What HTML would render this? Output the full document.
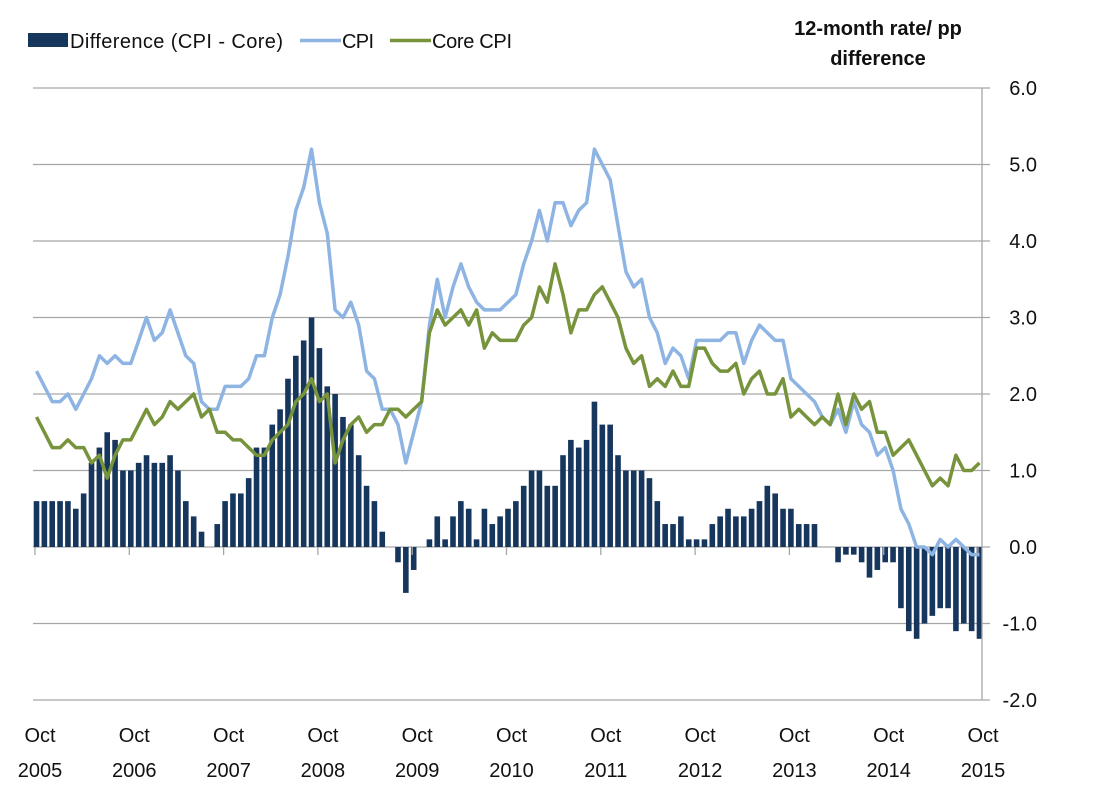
<!DOCTYPE html>
<html><head><meta charset="utf-8"><style>
body{margin:0;background:#fff}
svg{display:block;font-family:"Liberation Sans",Arial,sans-serif}
</style></head><body>
<svg id="chart" width="1113" height="794">
<g>
<rect x="28" y="33" width="40" height="14" fill="#17365d"/>
<text x="70" y="48" font-size="20" fill="#111" textLength="213">Difference (CPI - Core)</text>
<line x1="300" y1="40.5" x2="341" y2="40.5" stroke="#8eb4e3" stroke-width="3.5"/>
<text x="342" y="48" font-size="20" fill="#111" textLength="32">CPI</text>
<line x1="390" y1="40.5" x2="431" y2="40.5" stroke="#77933c" stroke-width="3.5"/>
<text x="432" y="48" font-size="20" fill="#111" textLength="80">Core CPI</text>
</g>
<text x="878" y="35" font-size="20" font-weight="bold" text-anchor="middle" fill="#111">12-month rate/ pp</text>
<text x="878" y="65" font-size="20" font-weight="bold" text-anchor="middle" fill="#111">difference</text>
<g id="grid"></g><g id="bars"></g><g id="lines"></g><g id="axes"></g>
</svg>
<script>
const yTicks=[6,5,4,3,2,1,0,-1,-2];
const yTickLabels=["6.0","5.0","4.0","3.0","2.0","1.0","0.0","-1.0","-2.0"];
const xTickYears=["2005","2006","2007","2008","2009","2010","2011","2012","2013","2014","2015"];
const cpi=[2.3,2.1,1.9,1.9,2.0,1.8,2.0,2.2,2.5,2.4,2.5,2.4,2.4,2.7,3.0,2.7,2.8,3.1,2.8,2.5,2.4,1.9,1.8,1.8,2.1,2.1,2.1,2.2,2.5,2.5,3.0,3.3,3.8,4.4,4.7,5.2,4.5,4.1,3.1,3.0,3.2,2.9,2.3,2.2,1.8,1.8,1.6,1.1,1.5,1.9,2.9,3.5,3.0,3.4,3.7,3.4,3.2,3.1,3.1,3.1,3.2,3.3,3.7,4.0,4.4,4.0,4.5,4.5,4.2,4.4,4.5,5.2,5.0,4.8,4.2,3.6,3.4,3.5,3.0,2.8,2.4,2.6,2.5,2.2,2.7,2.7,2.7,2.7,2.8,2.8,2.4,2.7,2.9,2.8,2.7,2.7,2.2,2.1,2.0,1.9,1.7,1.6,1.8,1.5,1.9,1.6,1.5,1.2,1.3,1.0,0.5,0.3,0.0,0.0,-0.1,0.1,0.0,0.1,0.0,-0.1,-0.1];
const core=[1.7,1.5,1.3,1.3,1.4,1.3,1.3,1.1,1.2,0.9,1.2,1.4,1.4,1.6,1.8,1.6,1.7,1.9,1.8,1.9,2.0,1.7,1.8,1.5,1.5,1.4,1.4,1.3,1.2,1.2,1.4,1.5,1.6,1.9,2.0,2.2,1.9,2.0,1.1,1.4,1.6,1.7,1.5,1.6,1.6,1.8,1.8,1.7,1.8,1.9,2.8,3.1,2.9,3.0,3.1,2.9,3.1,2.6,2.8,2.7,2.7,2.7,2.9,3.0,3.4,3.2,3.7,3.3,2.8,3.1,3.1,3.3,3.4,3.2,3.0,2.6,2.4,2.5,2.1,2.2,2.1,2.3,2.1,2.1,2.6,2.6,2.4,2.3,2.3,2.4,2.0,2.2,2.3,2.0,2.0,2.2,1.7,1.8,1.7,1.6,1.7,1.6,2.0,1.6,2.0,1.8,1.9,1.5,1.5,1.2,1.3,1.4,1.2,1.0,0.8,0.9,0.8,1.2,1.0,1.0,1.1];
const diff=[0.6,0.6,0.6,0.6,0.6,0.5,0.7,1.1,1.3,1.5,1.4,1.0,1.0,1.1,1.2,1.1,1.1,1.2,1.0,0.6,0.4,0.2,0,0.3,0.6,0.7,0.7,0.9,1.3,1.3,1.6,1.8,2.2,2.5,2.7,3.0,2.6,2.1,2.0,1.7,1.6,1.2,0.8,0.6,0.2,0,-0.2,-0.6,-0.3,0,0.1,0.4,0.1,0.4,0.6,0.5,0.1,0.5,0.3,0.4,0.5,0.6,0.8,1.0,1.0,0.8,0.8,1.2,1.4,1.3,1.4,1.9,1.6,1.6,1.2,1.0,1.0,1.0,0.9,0.6,0.3,0.3,0.4,0.1,0.1,0.1,0.3,0.4,0.5,0.4,0.4,0.5,0.6,0.8,0.7,0.5,0.5,0.3,0.3,0.3,0,0,-0.2,-0.1,-0.1,-0.2,-0.4,-0.3,-0.2,-0.2,-0.8,-1.1,-1.2,-1.0,-0.9,-0.8,-0.8,-1.1,-1.0,-1.1,-1.2];

const NS="http://www.w3.org/2000/svg";
const X0=36.5,DX=(979.5-36.5)/120,XL=33,XR=982;
const x=i=>X0+i*DX;
const y=v=>547-v*76.5;
function mk(tag,attrs,parent){const e=document.createElementNS(NS,tag);for(const k in attrs)e.setAttribute(k,attrs[k]);parent.appendChild(e);return e;}
const grid=document.getElementById('grid'),bars=document.getElementById('bars'),lines=document.getElementById('lines'),axes=document.getElementById('axes');
yTicks.forEach((v,k)=>{
  const g=mk('line',{x1:XL,x2:XR+8,y1:y(v),y2:y(v),stroke:'#a6a6a6','stroke-width':1.3},grid);
  
  
  const t=mk('text',{x:1037,y:y(v)+7,'font-size':20,'text-anchor':'end',fill:'#111'},axes);
  t.textContent=yTickLabels[k];
  
  
});
const ax=mk('line',{x1:XR,x2:XR,y1:y(6),y2:y(-2),stroke:'#a6a6a6','stroke-width':1.3},axes);


diff.forEach((v,i)=>{
  if(v===0)return;
  const r=mk('rect',{x:x(i)-2.8,width:5.6,y:Math.min(y(v),y(0)),height:Math.abs(y(v)-y(0)),fill:'#17365d'},bars);
  
  
});
function line(arr,color,name){
  const p=mk('polyline',{points:arr.map((v,i)=>x(i).toFixed(1)+','+y(v).toFixed(1)).join(' '),fill:'none',stroke:color,'stroke-width':3.5,'stroke-linejoin':'round'},lines);
  
  
}
line(cpi,'#8eb4e3','cpi-line');
line(core,'#77933c','core-cpi-line');
xTickYears.forEach((yr,k)=>{
  const xx=x(k*12)-1.5;
  const tk=mk('line',{x1:xx,x2:xx,y1:y(0),y2:y(0)+8,stroke:'#a6a6a6','stroke-width':1.3},axes);
  
  
  const t1=mk('text',{x:xx+5,y:742,'font-size':20,'text-anchor':'middle',fill:'#111'},axes);
  t1.textContent='Oct';
  
  
  const t2=mk('text',{x:xx+5,y:777,'font-size':20,'text-anchor':'middle',fill:'#111'},axes);
  t2.textContent=yr;
  
  
});
</script>
</body></html>
